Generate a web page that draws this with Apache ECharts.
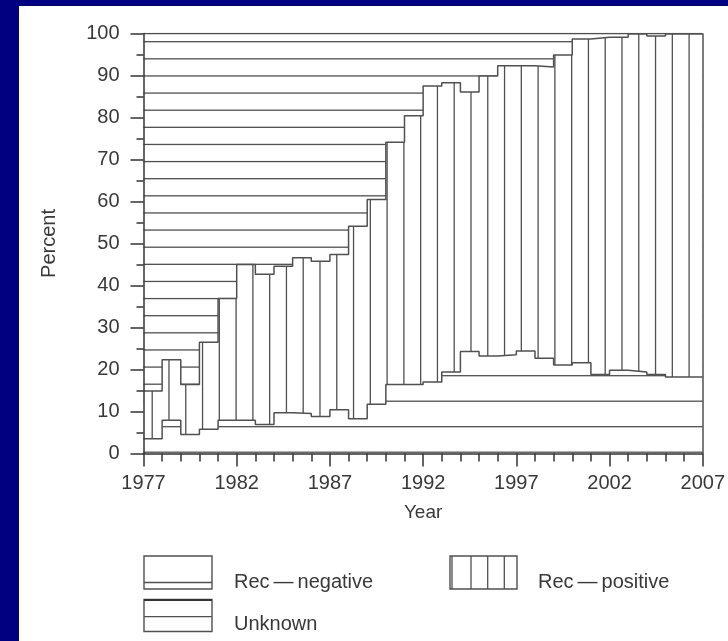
<!DOCTYPE html>
<html>
<head>
<meta charset="utf-8">
<script src="https://cdn.jsdelivr.net/npm/echarts@6/dist/echarts.min.js"></script>
<style>
  html, body { margin: 0; padding: 0; background: #000080; }
  #panel { position: absolute; left: 19px; top: 6px; width: 709px; height: 635px; background: #ffffff; z-index: 0; }
  #chart { position: absolute; left: 0; top: 0; width: 728px; height: 641px; z-index: 1; }
</style>
</head>
<body>
<div id="panel"></div>
<div id="chart"></div>
<script>
// ---- data (percent of cases by year) ----
const years = [1977,1978,1979,1980,1981,1982,1983,1984,1985,1986,1987,1988,1989,1990,1991,1992,1993,1994,1995,1996,1997,1998,1999,2000,2001,2002,2003,2004,2005,2006];
const recNegative = [3.5,7.9,4.5,5.8,7.9,7.9,6.9,9.7,9.5,8.8,10.4,8.3,11.7,16.4,16.4,17.0,19.4,24.3,23.2,23.5,24.4,22.7,21.1,21.6,18.8,19.8,19.4,18.8,18.2,18.2];
const recPositive = [11.4,14.4,11.9,20.7,29.0,37.1,35.8,34.9,37.1,37.0,37.0,45.8,48.8,57.7,64.0,70.5,68.9,61.8,66.7,68.8,67.9,69.3,73.8,77.1,80.3,79.3,80.5,80.6,81.7,81.7];
const unknown = [85.1,77.7,83.6,73.5,63.1,55.0,57.3,55.4,53.4,54.2,52.6,45.9,39.5,25.9,19.6,12.5,11.7,13.9,10.1,7.7,7.7,8.0,5.1,1.3,0.9,0.9,0.1,0.6,0.1,0.1];
const xTickLabels = ['1977','1982','1987','1992','1997','2002','2007'];
const yTickLabels = ['0','10','20','30','40','50','60','70','80','90','100'];
const seriesNames = ['Rec\u2009\u2014\u2009negative', 'Rec\u2009\u2014\u2009positive', 'Unknown'];

const LINE = '#505050';
const TEXT = '#383838';
const FONT = '"Liberation Sans", Arial, sans-serif';

// cumulative stacking (bottom -> top)
const cumNeg = recNegative.slice();
const cumPos = recPositive.map((v, i) => cumNeg[i] + v);
const cumAll = unknown.map((v, i) => cumPos[i] + v);

// step data: each year's value holds until next year; close at 2007
function stepData(vals) {
  const d = years.map((y, i) => [y, vals[i]]);
  d.push([years[years.length - 1] + 1, vals[vals.length - 1]]);
  return d;
}

// opaque hatch patterns (white ground + grey lines)
function hPattern(period, offsets, lw) {
  const c = document.createElement('canvas');
  c.width = 8; c.height = period;
  const g = c.getContext('2d');
  g.fillStyle = '#ffffff'; g.fillRect(0, 0, 8, period);
  g.fillStyle = LINE;
  offsets.forEach(o => g.fillRect(0, o - lw / 2, 8, lw));
  return { image: c, repeat: 'repeat' };
}
function vPattern(period, offsets, lw) {
  const c = document.createElement('canvas');
  c.width = period; c.height = 8;
  const g = c.getContext('2d');
  g.fillStyle = '#ffffff'; g.fillRect(0, 0, period, 8);
  g.fillStyle = LINE;
  offsets.forEach(o => g.fillRect(o - lw / 2, 0, lw, 8));
  return { image: c, repeat: 'repeat' };
}
const unkOff = []; for (let k = 0; k < 8; k++) unkOff.push((41.7 + k * 17.125) % 137);
const negOff = [18.7, 44.2];
const posOff = []; for (let k = 0; k < 9; k++) posOff.push(1.2 + k * 16.78);
const patUnknown = hPattern(137, unkOff, 1.3);
const patNeg = hPattern(51, negOff, 1.3);
const patPos = vPattern(151, posOff, 1.3);

const chart = echarts.init(document.getElementById('chart'), null, { renderer: 'canvas' });

function mkSeries(name, vals, pat, z, extra) {
  return Object.assign({
    name: name,
    type: 'line',
    step: 'end',
    z: z,
    data: stepData(vals),
    symbol: 'none',
    showSymbol: false,
    lineStyle: { color: LINE, width: 1.5 },
    areaStyle: { color: pat, opacity: 1, origin: 'start' },
    itemStyle: { color: LINE },
    emphasis: { disabled: true },
    animation: false
  }, extra || {});
}

// legend graphics
function box(x, y, w, h, lines, thickTop) {
  const els = [{ type: 'rect', shape: { x: x, y: y, width: w, height: h }, style: { fill: '#fff', stroke: LINE, lineWidth: 1.4 } }];
  lines.forEach(l => els.push({ type: 'line', shape: l, style: { stroke: LINE, lineWidth: 1.3 } }));
  if (thickTop) els.push({ type: 'line', shape: { x1: x, y1: y + 0.5, x2: x + w, y2: y + 0.5 }, style: { stroke: '#333', lineWidth: 2 } });
  return els;
}
const legendEls = [].concat(
  box(144, 556, 68, 33, [{ x1: 144, y1: 582.5, x2: 212, y2: 582.5 }]),
  box(144, 599.5, 68, 32, [{ x1: 144, y1: 616.7, x2: 212, y2: 616.7 }], true),
  box(450, 556, 67, 33, [
    { x1: 452, y1: 556, x2: 452, y2: 589 },
    { x1: 471, y1: 556, x2: 471, y2: 589 },
    { x1: 487.7, y1: 556, x2: 487.7, y2: 589 },
    { x1: 504.3, y1: 556, x2: 504.3, y2: 589 }
  ]),
  [
    { type: 'text', x: 234, y: 582, style: { text: seriesNames[0], fill: TEXT, font: '20px ' + FONT, verticalAlign: 'middle' } },
    { type: 'text', x: 234, y: 624, style: { text: seriesNames[2], fill: TEXT, font: '20px ' + FONT, verticalAlign: 'middle' } },
    { type: 'text', x: 538, y: 582, style: { text: seriesNames[1], fill: TEXT, font: '20px ' + FONT, verticalAlign: 'middle' } }
  ]
);

chart.setOption({
  animation: false,
  backgroundColor: 'transparent',
  textStyle: { fontFamily: FONT },
  grid: { left: 143.5, right: 25, top: 33.5, bottom: 187.5, containLabel: false },
  xAxis: {
    type: 'value', z: 10,
    min: 1977, max: 2007, interval: 5,
    name: 'Year', nameLocation: 'middle', nameGap: 50,
    nameTextStyle: { color: TEXT, fontSize: 19, fontFamily: FONT },
    axisLine: { show: true, onZero: false, lineStyle: { color: '#333', width: 1.5 } },
    axisTick: { show: true, length: 13, lineStyle: { color: '#333', width: 1.5 } },
    minorTick: { show: true, splitNumber: 5, length: 8, lineStyle: { color: '#333', width: 1.5 } },
    splitLine: { show: false },
    minorSplitLine: { show: false },
    axisLabel: {
      color: TEXT, fontSize: 20, fontFamily: FONT, margin: 20,
      formatter: v => xTickLabels[Math.round((v - 1977) / 5)]
    }
  },
  yAxis: [{
    type: 'value', z: 10,
    min: 0, max: 100, interval: 10,
    name: 'Percent', nameLocation: 'middle', nameGap: 84, nameRotate: 90,
    nameTextStyle: { color: TEXT, fontSize: 20, fontFamily: FONT },
    axisLine: { show: true, lineStyle: { color: '#333', width: 1.5 } },
    axisTick: { show: true, length: 13, lineStyle: { color: '#333', width: 1.5 } },
    minorTick: { show: true, splitNumber: 2, length: 7, lineStyle: { color: '#333', width: 1.5 } },
    splitLine: { show: false },
    axisLabel: {
      color: TEXT, fontSize: 20, fontFamily: FONT, margin: 24,
      formatter: v => yTickLabels[Math.round(v / 10)]
    }
  }],
  series: [
    mkSeries(seriesNames[2], cumAll, patUnknown, 2, {
      markLine: {
        silent: true, symbol: 'none', animation: false,
        label: { show: false },
        lineStyle: { color: LINE, width: 1.5, type: 'solid' },
        data: [{ xAxis: 2007 }]
      }
    }),
    mkSeries(seriesNames[1], cumPos, patPos, 3),
    mkSeries(seriesNames[0], cumNeg, patNeg, 4)
  ],
  graphic: legendEls
});
</script>
</body>
</html>
